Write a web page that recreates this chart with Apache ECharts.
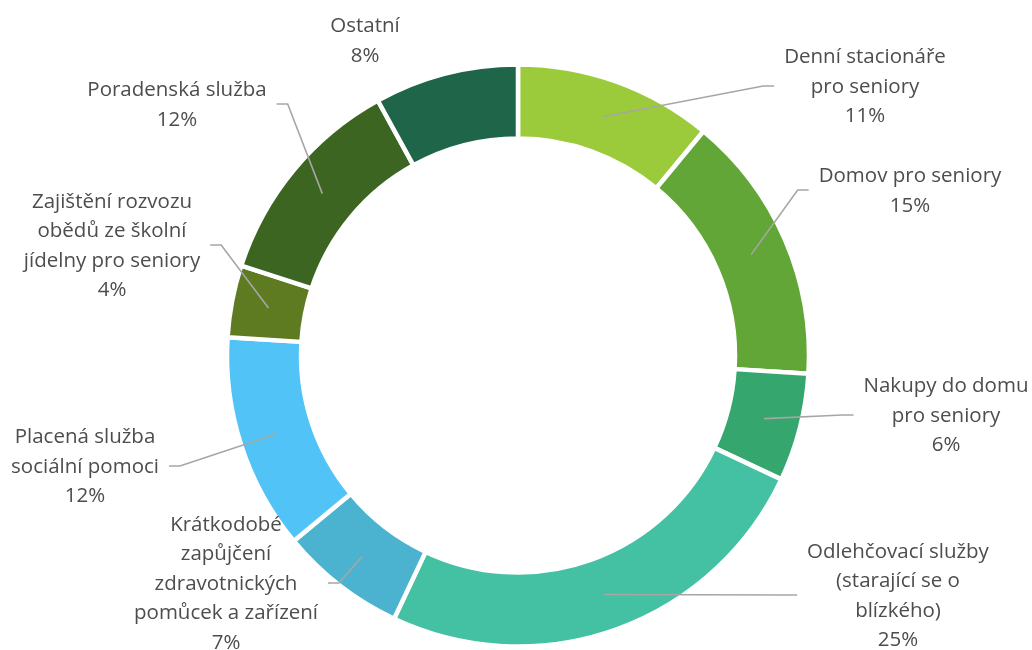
<!DOCTYPE html>
<html>
<head>
<meta charset="utf-8">
<script src="https://cdn.jsdelivr.net/npm/echarts@6/dist/echarts.min.js"></script>
<style>
  html, body { margin: 0; padding: 0; background: #ffffff; }
  #chart { width: 1032px; height: 650px; }
</style>
</head>
<body>
<div id="chart"></div>
<script>
// Services offered to seniors, share of answers (%)
const categories = [
  'Denní stacionáře\npro seniory',
  'Domov pro seniory',
  'Nakupy do domu\npro seniory',
  'Odlehčovací služby\n(starající se o\nblízkého)',
  'Krátkodobé\nzapůjčení\nzdravotnických\npomůcek a zařízení',
  'Placená služba\nsociální pomoci',
  'Zajištění rozvozu\nobědů ze školní\njídelny pro seniory',
  'Poradenská služba',
  'Ostatní'
];
const shares = [11, 15, 6, 25, 7, 12, 4, 12, 8];
const sliceColors = [
  '#9BCB3B', '#62A637', '#35A66E', '#44C1A3', '#4BB3CF',
  '#52C3F7', '#5E7B22', '#3C6522', '#1F6549'
];

// Layout
const CENTER = [518, 355.5];
const RING = [217, 291];
const ANCHOR_RADIUS = 254;           // leader lines start mid-ring
const labelCentres = [
  [865, 87], [910, 191], [946, 416], [898, 596], [226, 584],
  [85, 467], [112, 246], [177, 105], [365, 41]
];
const noLeader = ['Ostatní'];

const ringData = shares.map((v, i) => ({
  value: v,
  name: categories[i],
  itemStyle: { color: sliceColors[i] }
}));

const labelData = shares.map((v, i) => ({
  value: v,
  name: categories[i],
  labelLine: { show: noLeader.indexOf(categories[i]) < 0 }
}));

const chart = echarts.init(document.getElementById('chart'), null, { renderer: 'canvas' });

chart.setOption({
  animation: false,
  backgroundColor: '#ffffff',
  series: [
    {
      type: 'pie',
      center: CENTER,
      radius: RING,
      startAngle: 90,
      clockwise: true,
      silent: true,
      label: { show: false },
      labelLine: { show: false },
      emphasis: { disabled: true },
      itemStyle: { borderColor: '#ffffff', borderWidth: 4.5 },
      data: ringData
    },
    {
      // transparent overlay pie that carries the labels and leader lines
      type: 'pie',
      center: CENTER,
      radius: [0, ANCHOR_RADIUS],
      startAngle: 90,
      clockwise: true,
      silent: true,
      z: 3,
      emphasis: { disabled: true },
      itemStyle: { color: 'rgba(0,0,0,0)', borderWidth: 0 },
      label: {
        show: true,
        position: 'outside',
        formatter: '{b}\n{c}%',
        color: '#4D4D4D',
        fontFamily: '"Open Sans", "Noto Sans", sans-serif',
        fontSize: 20.5,
        lineHeight: 29.5,
        align: 'center'
      },
      labelLine: {
        show: true,
        length: 10,
        length2: 10,
        lineStyle: { color: '#A6A6A6', width: 1.6 }
      },
      labelLayout: function (p) {
        const c = labelCentres[p.dataIndex];
        const out = { x: c[0], y: c[1], align: 'center', verticalAlign: 'middle' };
        if (p.labelLinePoints && p.labelLinePoints.length) {
          const start = p.labelLinePoints[0];
          const half = p.labelRect.width / 2;
          const right = c[0] > CENTER[0];
          const endX = right ? c[0] - half - 10 : c[0] + half + 10;
          const bendX = right ? endX - 11 : endX + 11;
          const y = c[1] - 1;
          out.labelLinePoints = [start, [bendX, y], [endX, y]];
        }
        return out;
      },
      data: labelData
    }
  ]
});
</script>
</body>
</html>
